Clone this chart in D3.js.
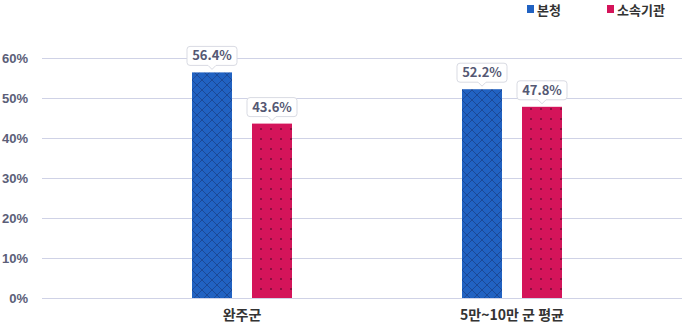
<!DOCTYPE html>
<html><head><meta charset="utf-8">
<script src="https://cdn.jsdelivr.net/npm/d3@7"></script>
<style>
html,body{margin:0;padding:0;background:#fff;}
svg{display:block;font-family:"Noto Sans CJK KR","Noto Sans",sans-serif;}
</style></head><body>
<svg id="c" width="682" height="324"></svg>
<script>
const categories = ["완주군", "5만~10만 군 평균"];
const seriesNames = ["본청", "소속기관"];
const mainOffice = [56.4, 52.2];
const affiliated = [43.6, 47.8];
const yTicks = [0, 10, 20, 30, 40, 50, 60];

const svg = d3.select("#c");
const defs = svg.append("defs");

// crosshatch pattern for 본청
const p1 = defs.append("pattern").attr("id","hatch").attr("patternUnits","userSpaceOnUse")
  .attr("width",10).attr("height",10);
p1.append("rect").attr("width",10).attr("height",10).attr("fill","#2162c2");
p1.append("path").attr("d","M0,0L10,10M10,0L0,10M-1,9L1,11M9,-1L11,1M-1,1L1,-1M9,11L11,9")
  .attr("stroke","#1a428c").attr("stroke-width",0.8);
// dot pattern for 소속기관
const p2 = defs.append("pattern").attr("id","dots").attr("patternUnits","userSpaceOnUse")
  .attr("width",10).attr("height",10).attr("x",4).attr("y",4);
p2.append("rect").attr("width",10).attr("height",10).attr("fill","#d4145a");
p2.append("rect").attr("x",4).attr("y",4).attr("width",2).attr("height",2).attr("fill","#8c1040");

const y = d3.scaleLinear().domain([0,60]).range([298,58]);
const x0 = d3.scaleBand().domain(categories).range([107,647]).paddingInner(0).paddingOuter(0);
const x1 = d3.scaleBand().domain(seriesNames).range([-50,50]).paddingInner(1/3).paddingOuter(0);

// grid lines
const yAxis = d3.axisLeft(y).tickValues(yTicks).tickSize(-640).tickFormat(d=>d+"%").tickPadding(14);
const gA = svg.append("g").attr("transform","translate(42,0)").call(yAxis);
gA.select(".domain").remove();
gA.selectAll(".tick line").attr("stroke","#cfd2e6").attr("stroke-width",1);
gA.selectAll(".tick text").attr("fill","#5b5e78").attr("font-size",13).attr("font-weight",700)
  .attr("x",-14);

const fills = ["url(#hatch)","url(#dots)"];
const data = categories.map((c,i)=>({cat:c, vals:[mainOffice[i], affiliated[i]]}));

const groups = svg.selectAll(".grp").data(data).enter().append("g")
  .attr("transform",d=>`translate(${x0(d.cat)+x0.bandwidth()/2},0)`);

groups.selectAll("rect.bar").data(d=>d.vals.map((v,j)=>({v,j,s:seriesNames[j]}))).enter()
  .append("rect").attr("class","bar")
  .attr("x",d=>x1(d.s)).attr("width",x1.bandwidth())
  .attr("y",d=>y(d.v)).attr("height",d=>y(0)-y(d.v))
  .attr("fill",d=>fills[d.j]);

// callout labels
const lab = groups.selectAll("g.lab").data(d=>d.vals.map((v,j)=>({v,j,s:seriesNames[j]}))).enter()
  .append("g").attr("class","lab")
  .attr("transform",d=>`translate(${x1(d.s)+x1.bandwidth()/2},${y(d.v)-3})`);
lab.append("path")
  .attr("d",()=>{const w=50,h=19,r=3,t=4;const l=-w/2,rr=w/2,b=-t,tp=-t-h;
    return `M${l+r},${tp}H${rr-r}Q${rr},${tp} ${rr},${tp+r}V${b-r}Q${rr},${b} ${rr-r},${b}H${t}L0,0L${-t},${b}H${l+r}Q${l},${b} ${l},${b-r}V${tp+r}Q${l},${tp} ${l+r},${tp}Z`;})
  .attr("fill","#fff").attr("stroke","#d9dbe3").attr("stroke-width",1);
lab.append("text").attr("text-anchor","middle").attr("y",-9)
  .attr("font-size",13).attr("font-weight",700).attr("fill","#555873")
  .text(d=>d.v.toFixed(1)+"%");

// category labels
svg.selectAll("text.cat").data(categories).enter().append("text").attr("class","cat")
  .attr("x",d=>x0(d)+x0.bandwidth()/2).attr("y",320)
  .attr("text-anchor","middle").attr("font-size",14).attr("font-weight",700).attr("fill","#333")
  .text(d=>d);

// legend
const legX = [527, 607];
const lg = svg.selectAll("g.leg").data(seriesNames).enter().append("g")
  .attr("transform",(d,i)=>`translate(${legX[i]},0)`);
lg.append("rect").attr("y",5).attr("width",7).attr("height",8).attr("fill",(d,i)=>i===0?"#2162c2":"#d4145a");
lg.append("text").attr("x",10).attr("y",15).attr("font-size",13).attr("font-weight",700).attr("fill","#333").text(d=>d);
</script></body></html>
